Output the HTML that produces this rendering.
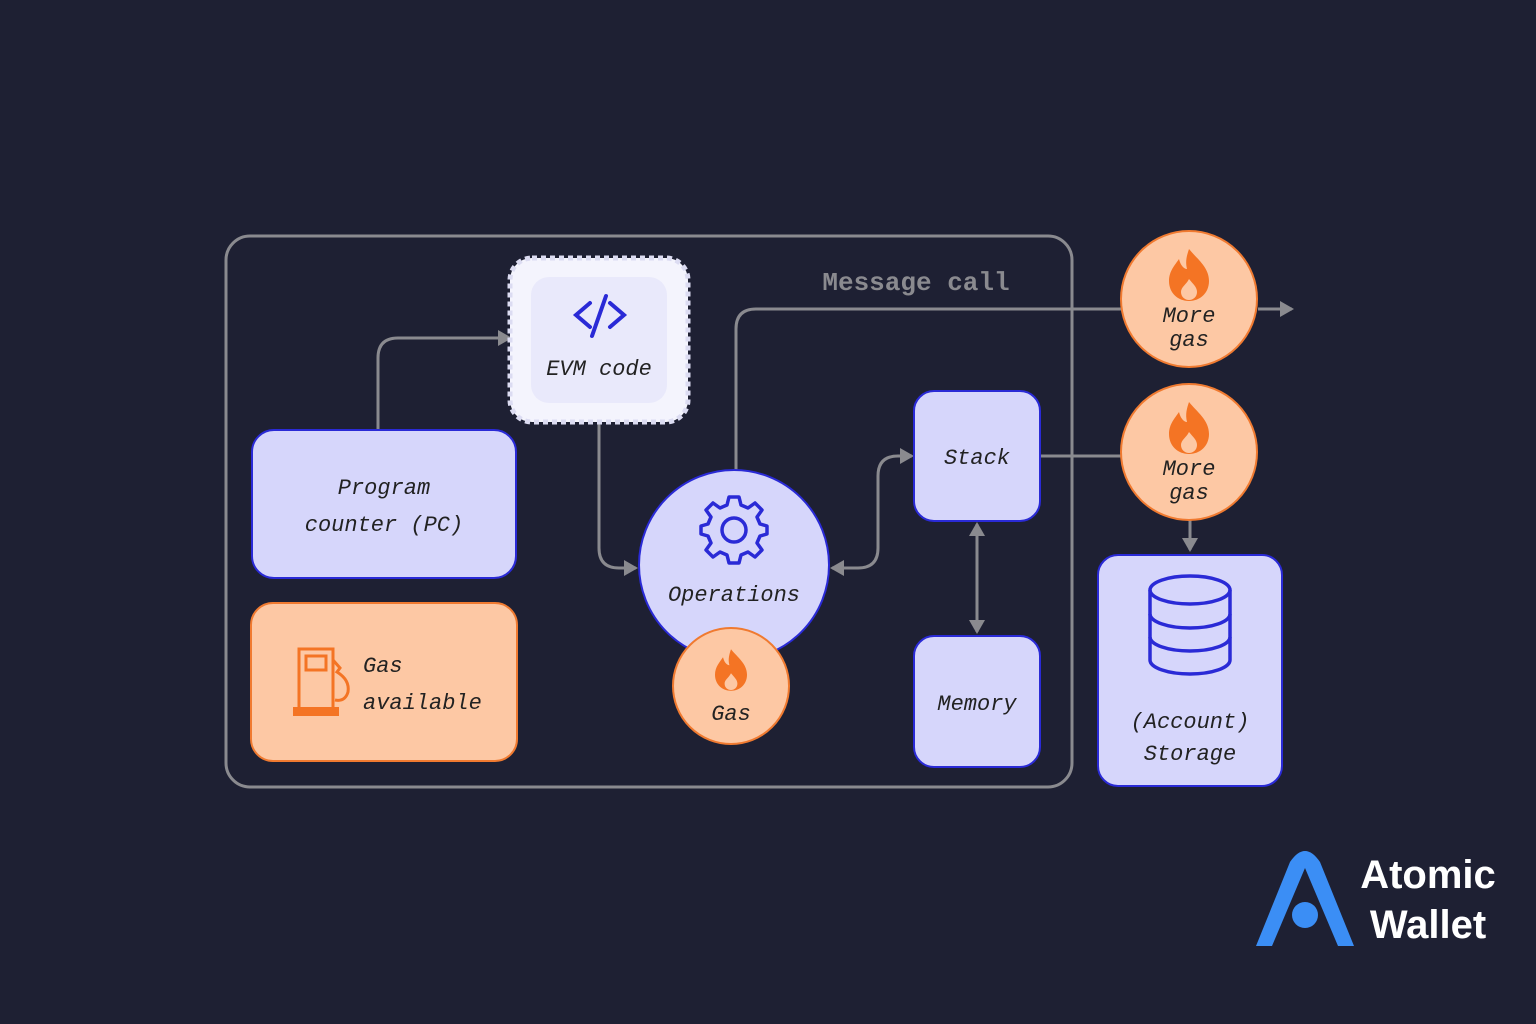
<!DOCTYPE html>
<html><head><meta charset="utf-8"><style>
html,body{margin:0;padding:0;background:#1e2033;}
svg{display:block}
.t{font-family:"Liberation Mono",monospace;font-style:italic;font-size:22px;fill:#222;}
</style></head><body>
<svg width="1536" height="1024" viewBox="0 0 1536 1024">
<defs>
<marker id="ar" markerWidth="14" markerHeight="16" refX="12" refY="8" orient="auto-start-reverse" markerUnits="userSpaceOnUse"><path d="M0,0 L14,8 L0,16Z" fill="#8a8a8f"/></marker>
<g id="fl"><path d="M0,-26 C8,-16 20,-8 20,6 C20,18 11,26 0,26 C-11,26 -20,18 -20,6 C-20,-4 -14,-10 -10,-16 C-8,-8 -4,-6 -2,-6 C-4,-14 -2,-20 0,-26Z" fill="#f47424"/><path d="M0,4 C4,9 8,12 8,17 C8,22 4,25 0,25 C-4,25 -8,22 -8,17 C-8,12 -3,10 0,4Z" fill="#fdc8a4"/></g>
</defs>
<rect x="0" y="0" width="1536" height="1024" fill="#1e2033"/>
<rect x="226" y="236" width="846" height="551" rx="24" fill="none" stroke="#8a8a8f" stroke-width="3"/>
<text x="916" y="290" text-anchor="middle" font-family="Liberation Mono,monospace" font-weight="bold" font-size="26" fill="#8a8a8f">Message call</text>
<g fill="none" stroke="#8a8a8f" stroke-width="3">
<path d="M378,430 V358 Q378,338 398,338 H510" marker-end="url(#ar)"/>
<path d="M599,420 V548 Q599,568 619,568 H636" marker-end="url(#ar)"/>
<path d="M736,470 V329 Q736,309 756,309 H1122"/>
<path d="M1258,309 H1292" marker-end="url(#ar)"/>
<path d="M832,568 H858 Q878,568 878,548 V476 Q878,456 898,456 H912" marker-start="url(#ar)" marker-end="url(#ar)"/>
<path d="M977,524 V632" marker-start="url(#ar)" marker-end="url(#ar)"/>
<path d="M1040,456 H1122"/>
<path d="M1190,520 V550" marker-end="url(#ar)"/>
</g>
<rect x="510" y="258" width="178" height="164" rx="22" fill="#f4f4fd" stroke="#dcdcf2" stroke-width="5" stroke-dasharray="5,4"/>
<rect x="531" y="277" width="136" height="126" rx="18" fill="#e9e9fb"/>
<g fill="none" stroke="#2a2ad6" stroke-width="4" stroke-linecap="round"><path d="M590,303 L576,315 L590,327"/><path d="M610,303 L624,315 L610,327"/><path d="M606,296 L592,336"/></g>
<text class="t" x="599" y="375" text-anchor="middle" font-size="21">EVM code</text>
<rect x="252" y="430" width="264" height="148" rx="22" fill="#d6d6fb" stroke="#2a2ad6" stroke-width="2"/>
<text class="t" x="384" y="494" text-anchor="middle">Program</text>
<text class="t" x="384" y="531" text-anchor="middle">counter (PC)</text>
<rect x="251" y="603" width="266" height="158" rx="22" fill="#fdc8a4" stroke="#f07a30" stroke-width="2"/>
<g fill="none" stroke="#f47424" stroke-width="3"><rect x="299" y="649" width="34" height="62"/><rect x="306" y="656" width="20" height="14"/><path d="M333,660 L340,668 L337,672 Q350,680 348,692 Q345,702 335,700"/></g>
<rect x="293" y="707" width="46" height="9" fill="#f47424"/>
<text class="t" x="363" y="672">Gas</text>
<text class="t" x="363" y="709">available</text>
<circle cx="734" cy="565" r="95" fill="#d6d6fb" stroke="#2a2ad6" stroke-width="2"/>
<g transform="translate(734,530)" fill="none" stroke="#2a2ad6" stroke-width="3.5">
<path d="M-5,-31 L5,-31 L7,-23 L14,-20 L21,-25 L28,-18 L23,-11 L26,-4 L33,-2 L33,6 L26,8 L23,15 L28,22 L21,29 L14,24 L7,27 L5,35 L-5,35 L-7,27 L-14,24 L-21,29 L-28,22 L-23,15 L-26,8 L-33,6 L-33,-2 L-26,-4 L-23,-11 L-28,-18 L-21,-25 L-14,-20 L-7,-23Z" stroke-linejoin="round" transform="translate(0,-2)"/>
<circle cx="0" cy="0" r="12"/></g>
<text class="t" x="734" y="601" text-anchor="middle">Operations</text>
<circle cx="731" cy="686" r="58" fill="#fdc8a4" stroke="#f07a30" stroke-width="2"/>
<use href="#fl" transform="translate(731,670) scale(0.8)"/>
<text class="t" x="731" y="720" text-anchor="middle">Gas</text>
<rect x="914" y="391" width="126" height="130" rx="20" fill="#d6d6fb" stroke="#2a2ad6" stroke-width="2"/>
<text class="t" x="977" y="464" text-anchor="middle">Stack</text>
<rect x="914" y="636" width="126" height="131" rx="20" fill="#d6d6fb" stroke="#2a2ad6" stroke-width="2"/>
<text class="t" x="977" y="710" text-anchor="middle">Memory</text>
<circle cx="1189" cy="299" r="68" fill="#fdc8a4" stroke="#f07a30" stroke-width="2"/>
<use href="#fl" transform="translate(1189,275)"/>
<text class="t" x="1189" y="322" text-anchor="middle">More</text>
<text class="t" x="1189" y="346" text-anchor="middle">gas</text>
<circle cx="1189" cy="452" r="68" fill="#fdc8a4" stroke="#f07a30" stroke-width="2"/>
<use href="#fl" transform="translate(1189,428)"/>
<text class="t" x="1189" y="475" text-anchor="middle">More</text>
<text class="t" x="1189" y="499" text-anchor="middle">gas</text>
<rect x="1098" y="555" width="184" height="231" rx="20" fill="#d6d6fb" stroke="#2a2ad6" stroke-width="2"/>
<g fill="none" stroke="#2a2ad6" stroke-width="3.5">
<ellipse cx="1190" cy="590" rx="40" ry="14"/>
<path d="M1150,590 V660 A40,14 0 0 0 1230,660 V590"/>
<path d="M1150,614 A40,14 0 0 0 1230,614"/>
<path d="M1150,637 A40,14 0 0 0 1230,637"/>
</g>
<text class="t" x="1190" y="728" text-anchor="middle" font-size="20">(Account)</text>
<text class="t" x="1190" y="760" text-anchor="middle" font-size="20">Storage</text>
<path d="M1256,946 L1290,862 Q1305,840 1320,862 L1354,946 L1338,946 L1305,868 L1272,946Z" fill="#3b8ef5"/>
<circle cx="1305" cy="915" r="13" fill="#3b8ef5"/>
<text x="1428" y="888" text-anchor="middle" font-family="Liberation Sans,sans-serif" font-weight="bold" font-size="40" fill="#fff">Atomic</text>
<text x="1428" y="938" text-anchor="middle" font-family="Liberation Sans,sans-serif" font-weight="bold" font-size="40" fill="#fff">Wallet</text>
</svg>
</body></html>
